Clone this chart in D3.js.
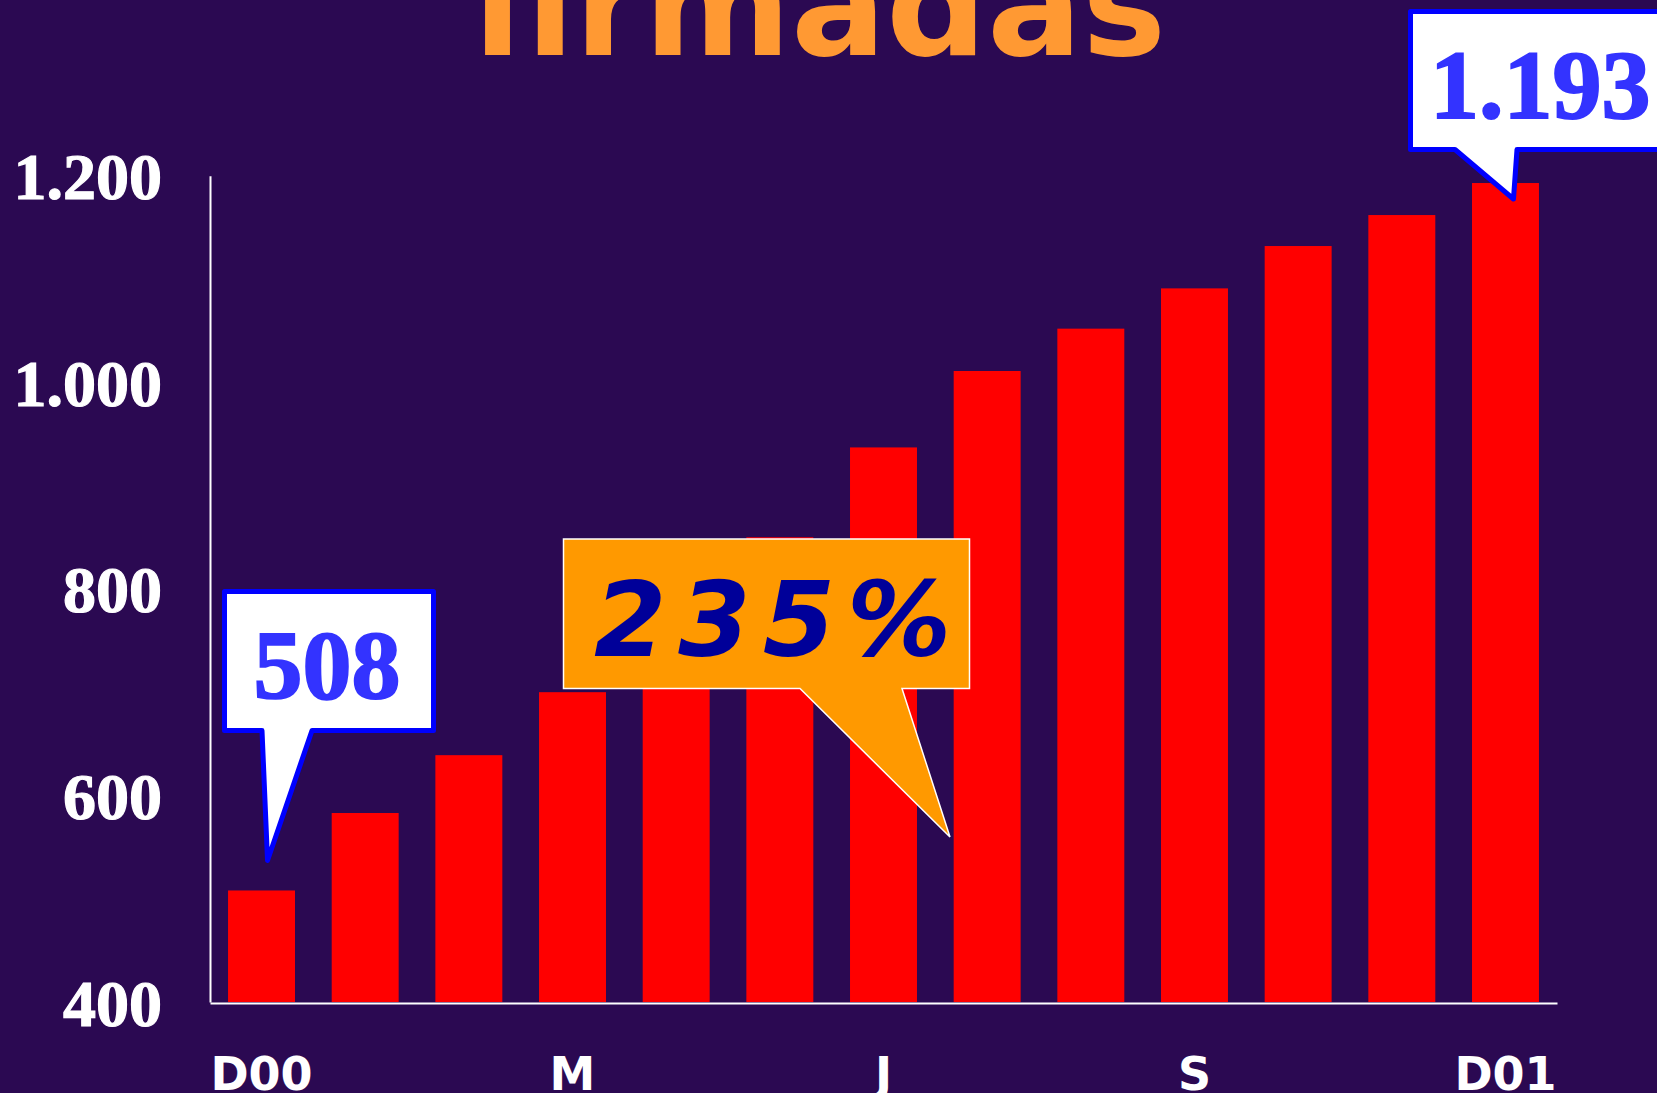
<!DOCTYPE html>
<html>
<head>
<meta charset="utf-8">
<script src="https://cdn.jsdelivr.net/npm/d3@7"></script>
<style>
  html, body { margin: 0; padding: 0; background: #2b0952; overflow: hidden; }
  svg { display: block; }
</style>
</head>
<body>
<svg id="chart" width="1657" height="1093"></svg>
<script>
// Monthly totals, December 2000 to December 2001
const months = ["Dic-00", "Ene-01", "Feb-01", "Mar-01", "Abr-01", "May-01", "Jun-01",
                "Jul-01", "Ago-01", "Sep-01", "Oct-01", "Nov-01", "Dic-01"];
const values = [508, 583, 639, 700, 775, 850, 937, 1011, 1052, 1091, 1132, 1162, 1193];
const xTickLabels = ["D00", "", "", "M", "", "", "J", "", "", "S", "", "", "D01"];
const yTicks = [400, 600, 800, 1000, 1200];
const titleText = "firmadas";
const growthText = "235%";

const W = 1657, H = 1093;
const plot = { left: 210, right: 1557, top: 175.8, bottom: 1002 };

const svg = d3.select("#chart");
svg.append("rect").attr("width", W).attr("height", H).attr("fill", "#2b0952");

const esLocale = d3.formatLocale({ decimal: ",", thousands: ".", grouping: [3], currency: ["", ""] });
const fmt = esLocale.format(",d");

const x = d3.scaleBand()
  .domain(d3.range(months.length))
  .range([plot.left, plot.right])
  .paddingInner(0.354)
  .paddingOuter(0.174);

const y = d3.scaleLinear()
  .domain([400, 1200])
  .range([plot.bottom, plot.top]);

// Title (second line of the heading, partly above the frame)
svg.append("text")
  .attr("x", 818).attr("y", 55)
  .attr("text-anchor", "middle")
  .attr("font-family", "'DejaVu Sans', Verdana, sans-serif")
  .attr("font-weight", "bold")
  .attr("font-size", 141)
  .attr("fill", "#ff9933")
  .text(titleText);

// Bars
svg.append("g").selectAll("rect")
  .data(values)
  .join("rect")
  .attr("x", (d, i) => x(i))
  .attr("width", x.bandwidth())
  .attr("y", d => y(d))
  .attr("height", d => y(400) - y(d))
  .attr("fill", "#ff0000");

// Y axis
const yAxis = svg.append("g")
  .attr("transform", `translate(${plot.left},0)`)
  .call(d3.axisLeft(y).tickValues(yTicks).tickFormat(fmt).tickSize(0).tickSizeOuter(0).tickPadding(48));
yAxis.select(".domain").attr("stroke", "#ffffff").attr("stroke-width", 2);
yAxis.selectAll("text")
  .attr("dy", 23)
  .attr("fill", "#ffffff")
  .attr("stroke", "#ffffff").attr("stroke-width", 1.2)
  .attr("font-family", "'Liberation Serif', 'Times New Roman', serif")
  .attr("font-weight", "bold")
  .attr("font-size", 66);

// X axis
const xAxis = svg.append("g")
  .attr("transform", `translate(0,${plot.bottom + 1})`)
  .call(d3.axisBottom(x).tickFormat(i => xTickLabels[i]).tickSize(0).tickSizeOuter(0).tickPadding(0));
xAxis.select(".domain").attr("stroke", "#ffffff").attr("stroke-width", 2);
xAxis.selectAll("text")
  .attr("y", 87).attr("dy", 0)
  .attr("fill", "#ffffff")
  .attr("font-family", "'DejaVu Sans', Verdana, sans-serif")
  .attr("font-weight", "bold")
  .attr("font-size", 46);

// Speech-bubble callout: rectangle with a pointed tail
function bubble(box, tailL, tailR, tip) {
  return `M${box.l},${box.t}H${box.r}V${box.b}H${tailR}L${tip[0]},${tip[1]}L${tailL},${box.b}H${box.l}Z`;
}

// First month value
const first = 0;
const tip0 = [x(first) + x.bandwidth() / 2 + 6, y(values[first]) - 30];
svg.append("path")
  .attr("d", bubble({ l: 224.5, t: 591.5, r: 433.5, b: 730.5 }, 262, 312, tip0))
  .attr("fill", "#ffffff").attr("stroke", "#0000ff").attr("stroke-width", 5)
  .attr("stroke-linejoin", "round");
svg.append("text")
  .attr("x", 327).attr("y", 698)
  .attr("text-anchor", "middle")
  .attr("font-family", "'Liberation Serif', 'Times New Roman', serif")
  .attr("font-weight", "bold").attr("font-size", 98)
  .attr("fill", "#3333ff")
  .attr("stroke", "#3333ff").attr("stroke-width", 2)
  .text(fmt(values[first]));

// Last month value
const last = values.length - 1;
const tipN = [x(last) + x.bandwidth() / 2 + 8, y(values[last]) + 16];
svg.append("path")
  .attr("d", bubble({ l: 1410.5, t: 11.5, r: 1700, b: 149.5 }, 1455, 1517, tipN))
  .attr("fill", "#ffffff").attr("stroke", "#0000ff").attr("stroke-width", 5)
  .attr("stroke-linejoin", "round");
svg.append("text")
  .attr("x", 1430).attr("y", 118)
  .attr("font-family", "'Liberation Serif', 'Times New Roman', serif")
  .attr("font-weight", "bold").attr("font-size", 98)
  .attr("fill", "#3333ff")
  .attr("stroke", "#3333ff").attr("stroke-width", 2)
  .text(fmt(values[last]));

// Growth over the year
svg.append("path")
  .attr("d", bubble({ l: 563.5, t: 539, r: 969.5, b: 688.5 }, 800, 902, [950, 837]))
  .attr("fill", "#ff9900").attr("stroke", "#ffffff").attr("stroke-width", 1.5);
svg.append("text")
  .attr("x", 594).attr("y", 656)
  .attr("font-family", "'DejaVu Sans', Verdana, sans-serif")
  .attr("font-weight", "bold").attr("font-style", "italic")
  .attr("font-size", 104)
  .attr("letter-spacing", 12)
  .attr("fill", "#000099")
  .text(growthText);
</script>
</body>
</html>
